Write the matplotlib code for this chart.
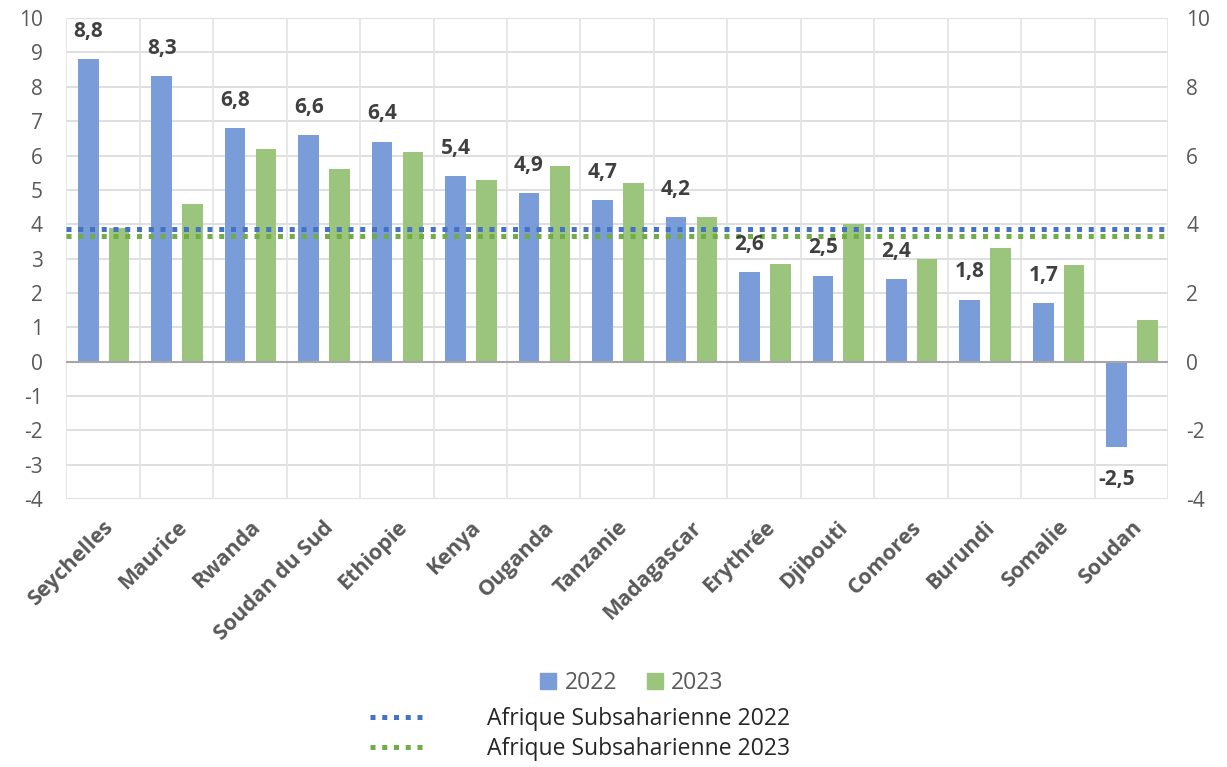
import numpy as np
import matplotlib.pyplot as plt
from matplotlib.lines import Line2D
from matplotlib.patches import Patch

plt.rcParams['font.family'] = ['Open Sans', 'DejaVu Sans']
plt.rcParams['axes.unicode_minus'] = False

countries = ["Seychelles", "Maurice", "Rwanda", "Soudan du Sud", "Ethiopie", "Kenya",
             "Ouganda", "Tanzanie", "Madagascar", "Erythrée", "Djibouti", "Comores",
             "Burundi", "Somalie", "Soudan"]
growth_2022 = [8.8, 8.3, 6.8, 6.6, 6.4, 5.4, 4.9, 4.7, 4.2, 2.6, 2.5, 2.4, 1.8, 1.7, -2.5]
growth_2023 = [3.9, 4.6, 6.2, 5.6, 6.1, 5.3, 5.7, 5.2, 4.2, 2.85, 4.0, 3.0, 3.3, 2.8, 1.2]
ssa_2022 = 3.85
ssa_2023 = 3.65

blue = "#7A9CD8"
green = "#9BC47C"
blue_line = "#4472C4"
green_line = "#70AD47"
text_grey = "#595959"

fig = plt.figure(figsize=(12.27, 7.67), dpi=100)
ax = fig.add_axes([0.054, 0.3494, 0.898, 0.627])

x = np.arange(len(countries))
w = 0.28
ax.bar(x - 0.2, growth_2022, w, color=blue, zorder=2)
ax.bar(x + 0.22, growth_2023, w, color=green, zorder=2)

# regional averages, dotted
dot = dict(linewidth=3.6, linestyle=(0, (1, 1.35)), dash_capstyle='butt', zorder=3)
ax.axhline(ssa_2022, color=blue_line, **dot)
ax.axhline(ssa_2023, color=green_line, **dot)

# value labels on 2022 bars
for xi, v in zip(x, growth_2022):
    off = 20 if v >= 0 else -23
    ax.annotate(("%.1f" % v).replace(".", ","), (xi - 0.2, v), xytext=(0, off),
                textcoords='offset points', ha='center', va='center',
                fontsize=15, fontweight='bold', color="#404040")

ax.set_xlim(-0.5, len(countries) - 0.5)
ax.set_ylim(-4, 10)
ax.set_yticks(range(-4, 11))
ax.set_xticks(x)
ax.set_xticklabels(countries, rotation=45, ha='right', rotation_mode='anchor',
                   fontsize=15.5, fontweight='bold', color=text_grey)

# grid: horizontal at each unit, vertical between categories
for yv in range(-4, 11):
    ax.axhline(yv, color="#D9D9D9", linewidth=1.2, zorder=0)
for xv in np.arange(-0.5, len(countries), 1.0):
    ax.axvline(xv, color="#E3E3E3", linewidth=1.2, zorder=0)
ax.axhline(0, color="#A6A6A6", linewidth=1.5, zorder=2.5)

for s in ax.spines.values():
    s.set_visible(False)
ax.tick_params(axis='both', length=0)
ax.tick_params(axis='y', labelsize=15, labelcolor=text_grey, pad=17)
ax.tick_params(axis='x', pad=13)

ax2 = ax.twinx()
ax2.set_ylim(-4, 10)
ax2.set_yticks(range(-4, 11, 2))
for s in ax2.spines.values():
    s.set_visible(False)
ax2.tick_params(axis='y', length=0, labelsize=15, labelcolor=text_grey, pad=13)

# legends
leg1 = fig.legend([Patch(color=blue), Patch(color=green)], ["2022", "2023"],
                  loc='center', bbox_to_anchor=(0.515, 0.109), ncol=2, frameon=False,
                  fontsize=16.5, handlelength=0.7, handleheight=0.7, handletextpad=0.35,
                  columnspacing=1.3, labelcolor=text_grey)
leg2 = fig.legend([Line2D([], [], color=blue_line, **dot), Line2D([], [], color=green_line, **dot)],
                  ["Afrique Subsaharienne 2022", "Afrique Subsaharienne 2023"],
                  loc='center', bbox_to_anchor=(0.473, 0.043), ncol=1, frameon=False,
                  fontsize=16.5, handlelength=2.5, handletextpad=2.6, labelspacing=0.25,
                  labelcolor="#262626")

fig.savefig("out.png", dpi=100)
